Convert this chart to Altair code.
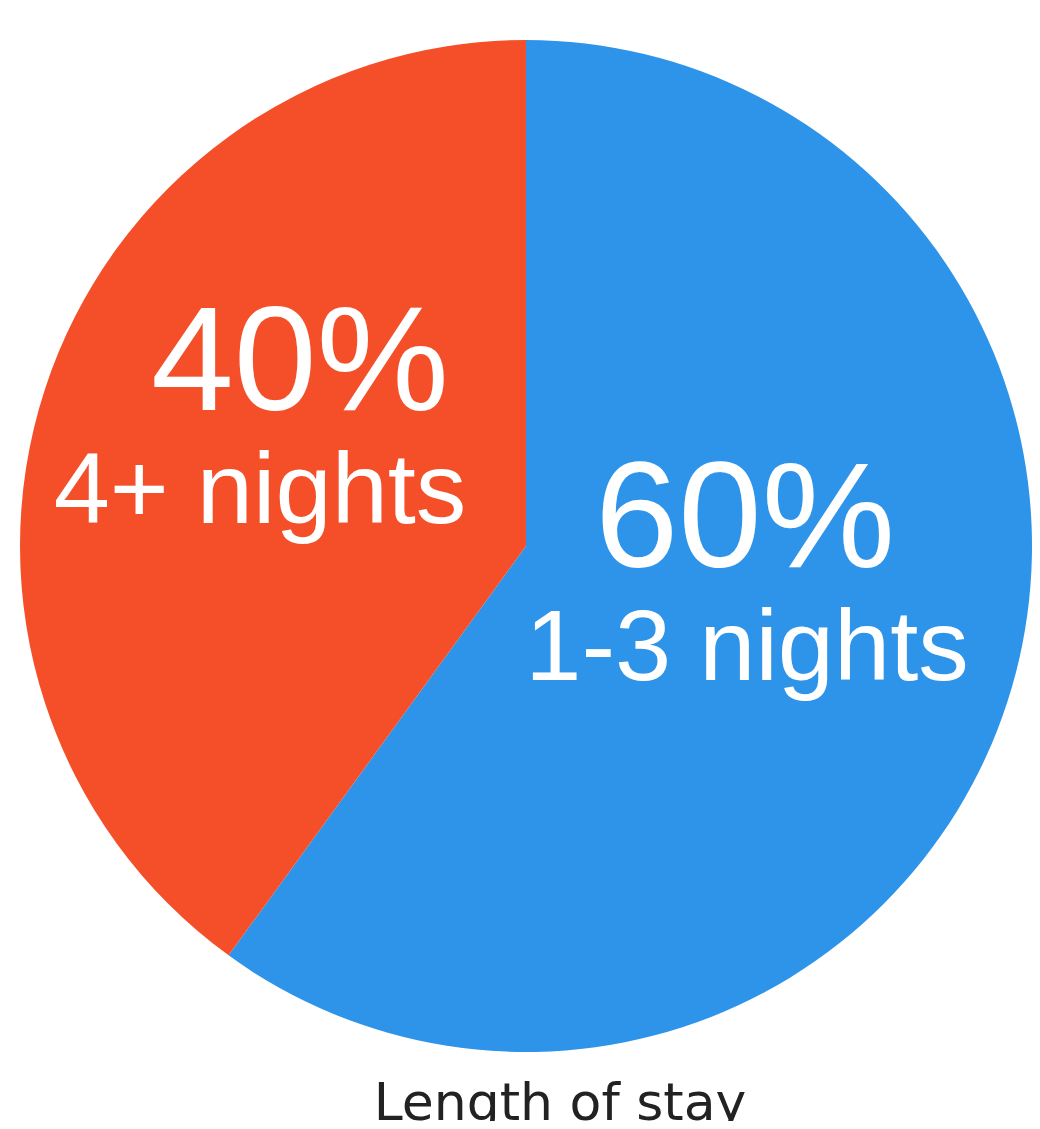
import altair as alt
import pandas as pd

# Data
categories = ["1-3 nights", "4+ nights"]
shares = [60, 40]
pct_labels = ["60%", "40%"]
colors = ["#2E94E9", "#F44F28"]
title_text = "Length of stay"

df = pd.DataFrame({"cat": categories, "share": shares, "ord": [0, 1]})

W, H = 1024, 1113
CX, CY, R = 518, 538, 506

pie = alt.Chart(df).mark_arc(radius=R, stroke=None).encode(
    theta=alt.Theta("share:Q", stack=True),
    order=alt.Order("ord:Q"),
    color=alt.Color("cat:N", scale=alt.Scale(domain=categories, range=colors), legend=None),
    x=alt.value(CX),
    y=alt.value(CY),
)

FONT = "Liberation Sans"

def label(txt, x, y, size, color="#FFFFFF", font=FONT):
    return alt.Chart(pd.DataFrame({"t": [txt]})).mark_text(
        font=font, fontSize=size, color=color, align="center", baseline="alphabetic"
    ).encode(text="t:N", x=alt.value(x), y=alt.value(y))

layers = [
    pie,
    label(pct_labels[1], 292, 402, 149),
    label(categories[1], 252, 515, 101),
    label(pct_labels[0], 737, 559, 150),
    label(categories[0], 739, 672, 101),
    label(title_text, 552, 1112, 52, color="#222222", font="DejaVu Sans"),
]

chart = alt.layer(*layers).properties(
    width=W, height=H, padding=0,
    autosize=alt.AutoSizeParams(type="none"),
).configure_view(stroke=None)

chart.save("out.html", embed_options={"renderer": "svg", "actions": False})
